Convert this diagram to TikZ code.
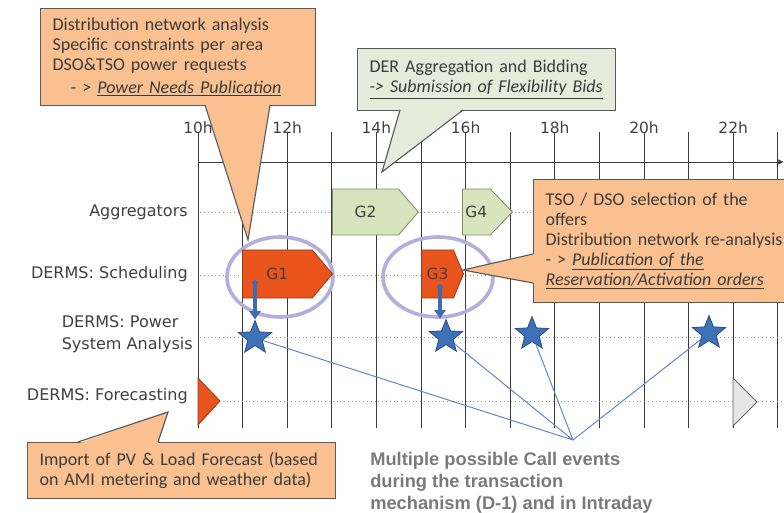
\documentclass[tikz,border=0pt]{standalone}
\usepackage{fontspec}
\setmainfont{DejaVu Sans}
\newfontfamily\calloutfont{Carlito}
\newfontfamily\notefont{Liberation Sans}
\usepackage{tikz}
\usetikzlibrary{arrows.meta,positioning,shapes.geometric,shapes.symbols}
\definecolor{peach}{HTML}{FAC090}
\definecolor{bidfill}{HTML}{E6EBDC}
\definecolor{boxline}{HTML}{5A5A5A}
\definecolor{calltext}{HTML}{3C3C3C}
\definecolor{labelgray}{HTML}{404040}
\definecolor{gridgray}{HTML}{3A3A3A}
\definecolor{dotgray}{HTML}{9A9A9A}
\definecolor{aggfill}{HTML}{D7E4BD}
\definecolor{aggline}{HTML}{7F8C6B}
\definecolor{schedfill}{HTML}{E9541D}
\definecolor{schedline}{HTML}{9C3B17}
\definecolor{ringlav}{HTML}{B4AEDC}
\definecolor{starblue}{HTML}{3D72B8}
\definecolor{stardark}{HTML}{2B4F86}
\definecolor{arrowblue}{HTML}{3D6CB3}
\definecolor{lineblue}{HTML}{5E87C8}
\definecolor{notegray}{HTML}{7A7A7A}

\begin{document}
\begin{tikzpicture}[x=0.025cm, y=-0.025cm,
    rowlabel/.style={anchor=east, align=left, inner sep=0pt, text=labelgray,
                     font=\fontsize{11.4}{16}\selectfont},
    hourlabel/.style={inner sep=0pt, text=labelgray, font=\fontsize{11}{13}\selectfont},
    gridline/.style={draw=gridgray, line width=0.7pt},
    rowline/.style={draw=dotgray, dotted, line width=0.7pt},
    aggblock/.style={signal, signal to=east, anchor=west, inner sep=0pt,
                     draw=aggline, fill=aggfill, line width=0.6pt,
                     minimum height=1.15cm, text=labelgray, font=\fontsize{11}{13}\selectfont},
    schedblock/.style={aggblock, draw=schedline, fill=schedfill, minimum height=1.2cm},
    ring/.style={ellipse, draw=ringlav, line width=2.6pt, inner sep=0pt},
    event/.style={star, star points=5, star point ratio=2.3, minimum size=0.87cm,
                  inner sep=0pt, fill=starblue, draw=stardark, line width=0.6pt},
    callarrow/.style={draw=arrowblue, line width=2.6pt,
                      {Circle[length=4pt]}-{Triangle[length=6pt,width=8pt]}},
    callline/.style={draw=lineblue, line width=0.7pt},
    callout/.style={draw=boxline, line width=0.8pt, fill=peach, anchor=north west,
                    align=left, inner xsep=0.3cm, inner ysep=0pt, text=calltext,
                    font=\calloutfont\fontsize{12.8}{14.2}\selectfont},
    bidcallout/.style={callout, fill=bidfill},
    tailfill/.style={fill=peach},
    tailedge/.style={draw=boxline, line width=0.8pt}
  ]
  \useasboundingbox (0,0) rectangle (784,513);
  \clip (0,0) rectangle (784,513);

  % time axis
  \foreach \i in {0,...,13}
    \draw[gridline] ({198+44.6*\i},132) -- ({198+44.6*\i},428);
  \foreach \h [evaluate=\h as \x using {198+44.6*(\h-10)}] in {10,12,...,22}
    \node[hourlabel] (h\h) at (\x,128) {\h h};
  \draw[gridline, -{Latex[length=4pt,width=4pt]}] (198,162) -- (784,162);

  % rows
  \node[rowlabel] (agg) at (188,212) {Aggregators};
  \node[rowlabel] (sched) at (188,274) {DERMS: Scheduling};
  \node[rowlabel] (psa) at (193,334) {DERMS: Power\\System Analysis};
  \node[rowlabel] (fcast) at (188,396) {DERMS: Forecasting};
  \foreach \y in {212,275,337,401}
    \draw[rowline] (200,\y) -- (784,\y);

  % forecasting marks
  \draw[draw=schedline, fill=schedfill, line width=0.6pt] (198,378) -- (198,425) -- (220,401) -- cycle;
  \draw[draw=gridgray!80, fill=gray!20, line width=0.6pt] (733,378) -- (733,426) -- (757,402) -- cycle;

  % gates
  \node[ring, minimum width=2.65cm, minimum height=2cm] (g1ring) at (280,277) {};
  \node[ring, minimum width=2.75cm, minimum height=2cm] (g3ring) at (438,277) {};
  \node[aggblock, minimum width=2.15cm, signal pointer angle=98] (g2) at (332,212) {G2};
  \node[aggblock, minimum width=1.25cm, signal pointer angle=92] (g4) at (462,212) {G4};
  \node[schedblock, minimum width=2.25cm, signal pointer angle=100] (g1) at (242,274) {G1};
  \node[schedblock, minimum width=1.05cm, signal pointer angle=135] (g3) at (421,274) {G3};

  % call events
  \node[event] (s1) at (255,338) {};
  \node[event] (s2) at (446,337) {};
  \node[event] (s3) at (532,334) {};
  \node[event] (s4) at (709,333) {};
  \draw[callarrow] ([shift={(13,6)}]g1.west) coordinate (g1drop) -- (g1drop |- s1.north);
  \draw[callarrow] ([shift={(19,10)}]g3.west) coordinate (g3drop) -- (g3drop |- s2.north);
  \coordinate (callpt) at (573,440);
  \foreach \s in {s1,s2,s3,s4}
    \draw[callline] (\s) -- (callpt);
  \node[anchor=north west, inner sep=0pt, align=left, text=notegray,
        font=\notefont\bfseries\fontsize{13}{15.8}\selectfont] (callnote) at (370,452)
    {Multiple possible Call events\\during the transaction\\mechanism (D-1) and in Intraday};

  % callouts
  \node[callout, text width=6.275cm, minimum height=2.425cm] (needs) at (40,8)
    {Distribution network analysis\\Specific constraints per area\\DSO\&TSO power requests\\[2pt]
     \hspace*{13pt}- > \underline{\textit{Power Needs Publication}}};
  \coordinate (needstip) at (248,240);
  \fill[tailfill] (205,103.5) -- (needstip) -- (270,103.5) -- cycle;
  \draw[tailedge] (205,105) -- (needstip) -- (270,105);

  \node[bidcallout, text width=5.85cm, minimum height=1.55cm] (bids) at (357,48)
    {DER Aggregation and Bidding\\\underline{\textit{-> Submission of Flexibility Bids}}};
  \coordinate (bidstip) at (382,172);
  \fill[fill=bidfill] (400,108.5) -- (bidstip) -- (463,108.5) -- cycle;
  \draw[tailedge] (400,110) -- (bidstip) -- (463,110);

  \node[callout, text width=6.15cm, minimum height=3.075cm] (orders) at (533,179)
    {TSO / DSO selection of the\\offers\\Distribution network re-analysis\\
     - > \underline{\textit{Publication of the}}\\\underline{\textit{Reservation/Activation orders}}};
  \coordinate (orderstip) at (463,270);
  \fill[tailfill] (534.5,254) -- (orderstip) -- (534.5,283) -- cycle;
  \draw[tailedge] (533,254) -- (orderstip) -- (533,283);

  \node[callout, text width=7.1cm, minimum height=1.4cm] (import) at (27,442)
    {Import of PV \& Load Forecast (based\\on AMI metering and weather data)};
  \coordinate (importtip) at (168,412);
  \fill[tailfill] (78,443.5) -- (importtip) -- (158,443.5) -- cycle;
  \draw[tailedge] (78,442) -- (importtip) -- (158,442);
\end{tikzpicture}
\end{document}
